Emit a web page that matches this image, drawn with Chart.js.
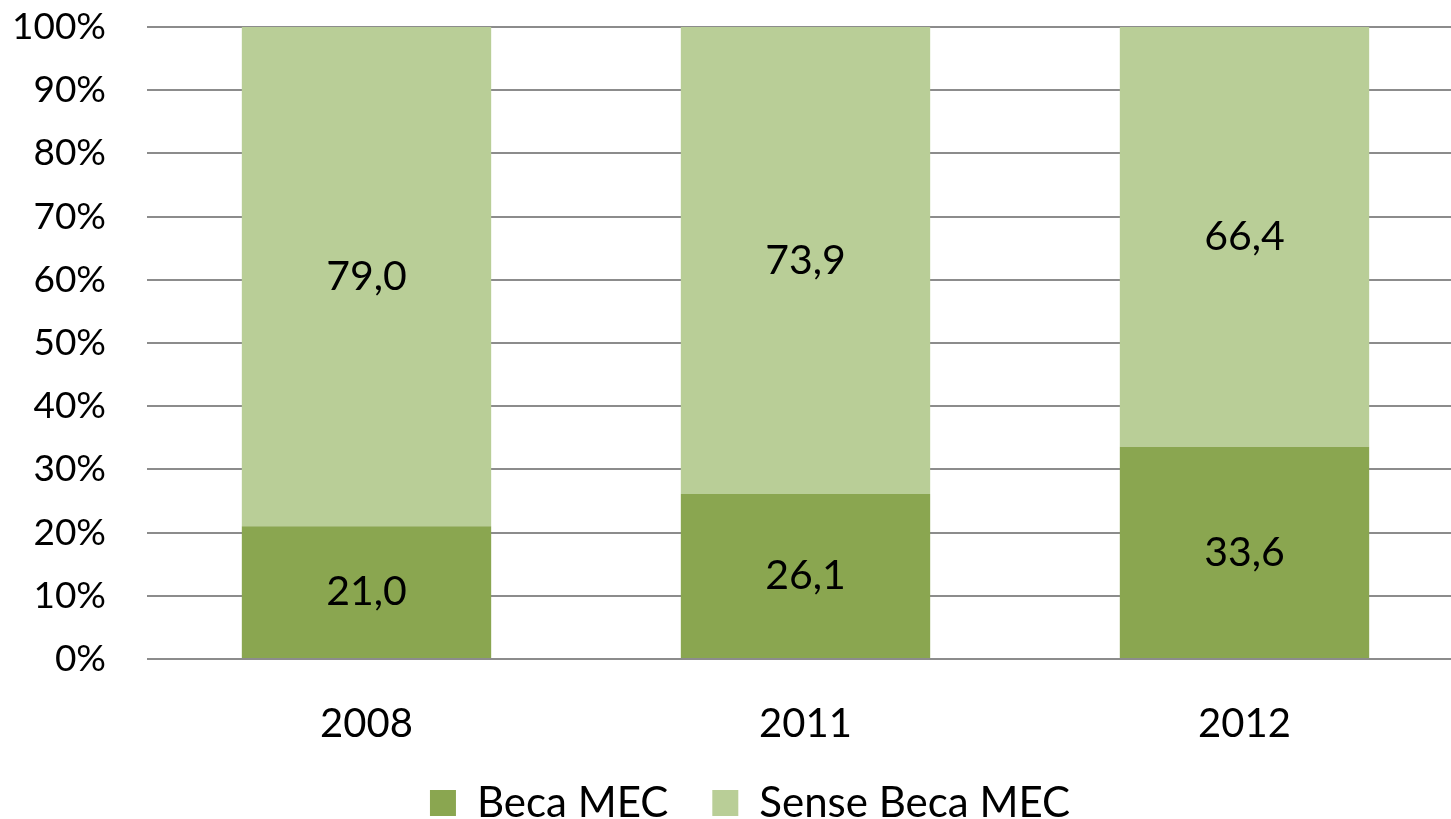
<!DOCTYPE html>
<html>
<head>
<meta charset="utf-8">
<script src="https://cdn.jsdelivr.net/npm/chart.js@4"></script>
<style>
  html, body { margin: 0; padding: 0; background: #ffffff; overflow: hidden; }
  #wrap { width: 1464px; height: 819px; }
</style>
</head>
<body>
<div id="wrap"><canvas id="chart" width="1464" height="819"></canvas></div>
<script>
// ── data ──────────────────────────────────────────────
const years = ['2008', '2011', '2012'];
const becaMec = [21.0, 26.1, 33.6];
const senseBecaMec = [79.0, 73.9, 66.4];

const DARK = '#8aa650';
const LIGHT = '#b9ce97';
const GRID = '#8c8c8c';
const FONT = "Lato, 'Noto Sans', sans-serif";

// draws the value in the middle of each bar segment
const segmentLabels = {
    id: 'segmentLabels',
    afterDatasetsDraw(chart) {
        const ctx = chart.ctx;
        ctx.save();
        ctx.font = '41px ' + FONT;
        ctx.fillStyle = '#000000';
        ctx.textAlign = 'center';
        ctx.textBaseline = 'middle';
        chart.data.datasets.forEach(function (ds, di) {
            chart.getDatasetMeta(di).data.forEach(function (bar, i) {
                const mid = (bar.y + bar.base) / 2;
                ctx.fillText(ds.data[i].toFixed(1).replace('.', ','), bar.x, mid);
            });
        });
        ctx.restore();
    }
};

// nudge the legend a bit to the right, like the original layout
const legendShift = {
    id: 'legendShift',
    afterLayout(chart) {
        if (!chart.legend) return;
        chart.legend.left += 18;
        chart.legend.right += 18;
    }
};

new Chart(document.getElementById('chart'), {
    type: 'bar',
    data: {
        labels: years,
        datasets: [
            { label: 'Beca MEC', data: becaMec, backgroundColor: DARK },
            { label: 'Sense Beca MEC', data: senseBecaMec, backgroundColor: LIGHT }
        ]
    },
    options: {
        responsive: false,
        animation: false,
        datasets: { bar: { categoryPercentage: 1, barPercentage: 0.568 } },
        layout: { padding: { left: 0, top: 27, right: 0, bottom: -15 } },
        plugins: {
            tooltip: { enabled: false },
            legend: {
                position: 'bottom',
                labels: {
                    boxWidth: 26,
                    boxHeight: 26,
                    padding: 44,
                    color: '#000000',
                    font: { family: FONT, size: 42 }
                }
            }
        },
        scales: {
            x: {
                stacked: true,
                grid: { display: false },
                border: { display: false },
                ticks: { color: '#000000', padding: 33, font: { family: FONT, size: 40 } },
                afterFit: function (scale) { scale.height = 79; }
            },
            y: {
                stacked: true,
                min: 0,
                max: 100,
                grid: { color: GRID, lineWidth: 2, drawTicks: false },
                border: { display: false },
                ticks: {
                    stepSize: 10,
                    padding: 41,
                    color: '#000000',
                    font: { family: FONT, size: 37 },
                    callback: function (v) { return v + '%'; }
                },
                afterFit: function (scale) {
                    scale.width = 147;
                    scale.paddingTop = 0;
                    scale.paddingBottom = 0;
                }
            }
        }
    },
    plugins: [segmentLabels, legendShift]
});
</script>
</body>
</html>
